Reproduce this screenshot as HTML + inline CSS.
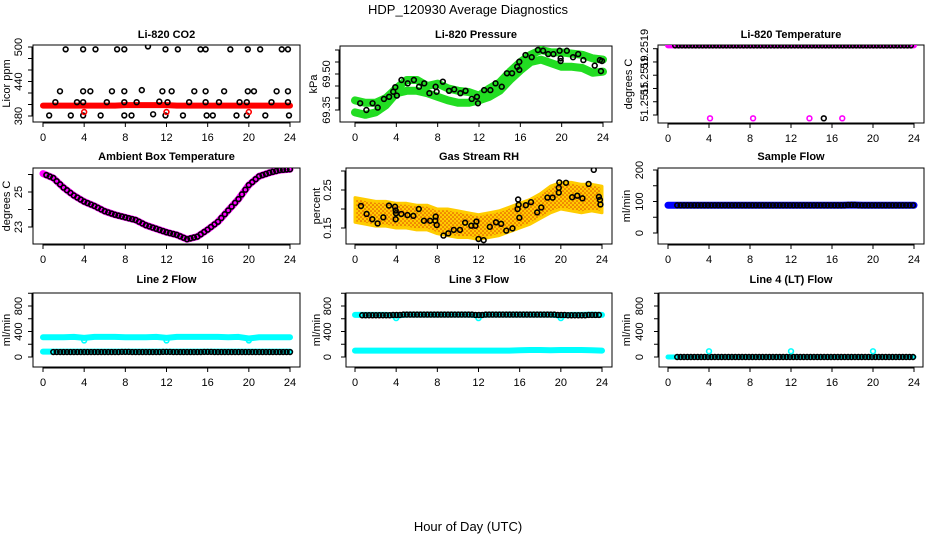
<!DOCTYPE html>
<html><head><meta charset="utf-8"><style>
html,body{margin:0;padding:0;background:#fff;}
svg{display:block;font-family:"Liberation Sans",sans-serif;}
</style></head><body>
<svg id="chart" width="936" height="540" viewBox="0 0 936 540">
<defs>
<pattern id="rhpat" width="4" height="4" patternUnits="userSpaceOnUse">
<rect width="4" height="4" fill="#ffcc00"/><circle cx="1" cy="1" r="0.8" fill="#e04000"/><circle cx="3" cy="3" r="0.8" fill="#e04000"/>
</pattern>
</defs>
<text x="468" y="14" text-anchor="middle" font-size="13">HDP_120930  Average Diagnostics</text>
<text x="468" y="531" text-anchor="middle" font-size="13">Hour of Day (UTC)</text>
</svg>
<script>
const hours = [0,1,2,3,4,5,6,7,8,9,10,11,12,13,14,15,16,17,18,19,20,21,22,23,24];
const xTicks = [0,4,8,12,16,20,24];
// CO2
const co2Red = [398,398,398,398,398,398,398,398,399,399,399,399,399,398,398,398,398,398,398,398,398,398,398,398,398];
const co2BlackH = [2.2,3.9,5.1,7.2,7.9,10.2,11.9,13.1,15.3,15.8,18.2,19.9,21.1,23.2,23.8, 1.65,3.9,4.6,6.7,7.9,9.6,11.6,12.5,14.7,15.8,17.6,19.9,20.5,22.7,23.8, 1.2,3.3,3.9,6.2,7.9,9.1,11.3,12.1,14.2,15.8,17.1,19.1,19.8,22.2,23.8, 0.6,2.7,3.9,5.6,7.9,8.6,10.7,11.9,13.6,15.9,16.5,18.8,19.8,21.6,23.9];
const co2BlackV = [496,496,496,496,496,501,496,496,496,496,496,496,496,496,496, 423,423,423,423,423,425,423,423,423,423,423,423,423,423,423, 404,404,404,404,404,404,405,404,404,404,404,404,404,404,404, 381,381,381,381,381,381,383,381,381,381,381,381,381,381,381];
const co2RedH = [4,12,20];
const co2RedV = [387,387,387];
// Pressure
const presUpper = [69.39,69.38,69.38,69.40,69.44,69.475,69.475,69.45,69.46,69.44,69.43,69.425,69.41,69.44,69.465,69.51,69.55,69.58,69.60,69.59,69.59,69.585,69.58,69.565,69.56];
const presLower = [69.34,69.33,69.34,69.37,69.42,69.43,69.43,69.42,69.405,69.39,69.38,69.38,69.39,69.405,69.43,69.475,69.515,69.55,69.56,69.545,69.53,69.53,69.525,69.505,69.51];
const presBlackH = [0.5,1.1,1.7,2.2,2.8,3.3,3.7,3.9,4.05,4.5,5.1,5.7,6.2,6.7,7.2,7.8,7.9,8.5,9.1,9.6,10.2,10.7,11.3,11.8,11.9,12.5,13.1,13.6,14.2,14.7,15.2,15.7,15.9,15.9,16.5,17.1,17.7,18.2,18.7,19.2,19.8,19.9,19.9,20.5,21.1,21.6,22.1,23.2,23.7,23.8,23.9];
const presBlackV = [69.378,69.35,69.378,69.36,69.396,69.405,69.426,69.445,69.41,69.475,69.461,69.475,69.447,69.461,69.42,69.447,69.426,69.468,69.43,69.436,69.42,69.43,69.396,69.405,69.378,69.433,69.433,69.461,69.447,69.503,69.503,69.53,69.551,69.517,69.579,69.57,69.6,69.597,69.583,69.583,69.597,69.565,69.554,69.597,69.57,69.583,69.558,69.535,69.558,69.512,69.554];
// Li-820 temperature
const tempMain = [51.25192,51.25192,51.25192,51.25192,51.25192,51.25192,51.25192,51.25192,51.25192,51.25192,51.25192,51.25192,51.25192,51.25192,51.25192,51.25192,51.25192,51.25192,51.25192,51.25192,51.25192,51.25192,51.25192,51.25192,51.25192];
const tempLowH = [4.1,8.3,13.8,17.0];
const tempLowV = [51.25148,51.25148,51.25148,51.25148];
const tempBlackLowH = [15.2];
const tempBlackLowV = [51.25148];
// Ambient box temperature
const ambient = [26.05,25.8,25.25,24.8,24.45,24.2,23.9,23.7,23.55,23.4,23.1,22.9,22.7,22.55,22.3,22.45,22.85,23.3,23.95,24.6,25.4,25.9,26.1,26.25,26.3];
// Gas stream RH
const rhUpper = [0.23,0.225,0.22,0.22,0.215,0.215,0.21,0.21,0.20,0.20,0.195,0.19,0.185,0.19,0.195,0.205,0.215,0.225,0.24,0.26,0.27,0.27,0.265,0.265,0.26];
const rhLower = [0.165,0.16,0.155,0.155,0.15,0.15,0.145,0.145,0.135,0.13,0.125,0.125,0.12,0.125,0.13,0.14,0.15,0.16,0.175,0.19,0.20,0.195,0.19,0.195,0.19];
const rhBlackH = [0.58,1.13,1.68,2.2,2.75,3.3,3.89,3.95,3.95,3.98,4.5,5.1,5.67,6.2,6.7,7.3,7.8,7.84,7.94,8.6,9.07,9.6,10.2,10.7,11.3,11.7,11.8,12.0,12.5,13.1,13.7,14.2,14.7,15.3,15.8,15.85,15.9,15.97,16.6,17.1,17.7,18.1,18.7,19.2,19.8,19.8,19.85,20.5,21.1,21.6,22.1,22.7,23.2,23.7,23.8,23.85];
const rhBlackV = [0.208,0.187,0.173,0.162,0.178,0.209,0.206,0.196,0.173,0.189,0.187,0.184,0.182,0.2,0.169,0.169,0.169,0.18,0.158,0.13,0.136,0.145,0.145,0.164,0.156,0.156,0.167,0.121,0.118,0.153,0.165,0.161,0.143,0.149,0.2,0.225,0.211,0.177,0.21,0.218,0.191,0.204,0.23,0.23,0.243,0.256,0.27,0.269,0.231,0.235,0.228,0.266,0.303,0.232,0.224,0.212];
// Sample flow
const sampleFlow = [88,88,88,88,88,88,88,88,88,88,88,88,88,88,88,88,88,88,89,88,88,88,88,88,88];
// Line 2
const line2Upper = [310,310,310,315,300,315,315,315,310,310,310,315,300,315,315,315,315,315,310,315,290,310,310,310,310];
const line2Lower = [85,85,85,85,85,85,85,85,85,85,85,85,85,85,85,85,85,85,85,85,85,85,85,85,85];
const line2Black = [78,78,78,78,78,78,78,78,80,78,78,78,80,78,78,78,80,78,78,78,78,78,78,78,78];
const line2DipH = [4,12,20];
const line2DipV = [260,260,260];
// Line 3
const line3Upper = [660,660,660,660,650,665,665,665,665,665,665,665,655,665,665,665,665,665,665,665,650,660,660,665,660];
const line3Lower = [100,100,100,100,100,100,100,100,100,100,100,100,100,100,100,100,105,110,110,105,110,110,110,105,100];
const line3Black = [655,655,655,655,660,665,665,665,665,665,665,665,660,665,665,665,665,665,665,665,660,655,655,660,660];
const line3DipH = [4,12,20];
const line3DipV = [610,610,610];
// Line 4
const line4Main = [0,0,0,0,0,0,0,0,0,0,0,0,0,0,0,0,0,0,0,0,0,0,0,0,0];
const line4SpikeH = [4,12,20];
const line4SpikeV = [90,90,90];

const yTicksCO2 = [380,400,420,440,460,480,500], yLabCO2 = ["380","","","440","","","500"];
const yTicksPres = [69.35,69.40,69.45,69.50,69.55,69.60], yLabPres = ["69.35","","","69.50","",""];
const yTicksTemp = [51.25190,51.25182,51.25174,51.25166,51.25158,51.25150];
const yLabTemp = ["51.2519","","51.2519","","51.2515",""];
const yTicksAmb = [23,24,25,26], yLabAmb = ["23","","25",""];
const yTicksRH = [0.15,0.20,0.25,0.30], yLabRH = ["0.15","","0.25",""];
const yTicksSF = [0,50,100,150,200], yLabSF = ["0","","100","","200"];
const yTicksFlow = [0,200,400,600,800,1000], yLabFlow = ["0","","400","","800",""];

const svg = document.getElementById('chart');
const NS = 'http://www.w3.org/2000/svg';
function mk(tag, attrs, parent){ const e=document.createElementNS(NS,tag); for(const k in attrs) e.setAttribute(k,attrs[k]); (parent||svg).appendChild(e); return e; }

function panel(o){
  const g = mk('g',{});
  
  
  const [l,t,r,b] = o.box;
  const xs = h => o.xm[0] + (o.xm[1]-o.xm[0])*h/24;
  const ys = v => o.ym[1] + (v-o.ym[0])*(o.ym[3]-o.ym[1])/(o.ym[2]-o.ym[0]);
  const frame = mk('rect',{x:l,y:t,width:r-l,height:b-t,fill:'none',stroke:'#000','stroke-width':1},g);
  
  
  const title = mk('text',{x:(l+r)/2,y:o.titleY,'text-anchor':'middle','font-size':11,'font-weight':'bold'},g);
  title.textContent = o.title;
  
  
  const xa = mk('g',{},g);
  
  
  mk('line',{x1:xs(0),x2:xs(24),y1:b+1,y2:b+1,stroke:'#000'},xa);
  xTicks.forEach(h=>{
    mk('line',{x1:xs(h),x2:xs(h),y1:b,y2:b+5,stroke:'#000'},xa);
    const tx = mk('text',{x:xs(h),y:b+19,'text-anchor':'middle','font-size':11},xa);
    tx.textContent = h;
    
    
  });
  const ya = mk('g',{},g);
  
  
  mk('line',{x1:l-1,x2:l-1,y1:ys(o.yt[0]),y2:ys(o.yt[o.yt.length-1]),stroke:'#000'},ya);
  o.yt.forEach((v,i)=>{
    mk('line',{x1:l-5,x2:l,y1:ys(v),y2:ys(v),stroke:'#000'},ya);
    const lab = o.yl[i]; if(lab===''||lab===undefined) return;
    const tx = mk('text',{x:o.labX,y:ys(v),'text-anchor':'middle','font-size':11,transform:`rotate(-90 ${o.labX} ${ys(v)})`},ya);
    tx.textContent = lab;
    
    
  });
  const yt = mk('text',{x:o.ttlX,y:(t+b)/2,'text-anchor':'middle','font-size':11,transform:`rotate(-90 ${o.ttlX} ${(t+b)/2})`},g);
  yt.textContent = o.ylab;
  
  
  const clip = 'clip-'+o.name;
  const cp = mk('clipPath',{id:clip},g); mk('rect',{x:l,y:t,width:r-l,height:b-t},cp);
  const plot = mk('g',{'clip-path':`url(#${clip})`},g);
  return {g:plot,xs,ys};
}
function band(p, arr, color, w, name){
  const pts = arr.map((v,i)=>p.xs(hours[i])+','+p.ys(v)).join(' ');
  const e = mk('polyline',{points:pts,fill:'none',stroke:color,'stroke-width':w,'stroke-linecap':'round','stroke-linejoin':'round'},p.g);
  
  
}
function pts(p, hs, vs, color, name){
  hs.forEach((h,i)=>{
    const c = mk('circle',{cx:p.xs(h),cy:p.ys(vs[i]),r:2.4,fill:'none',stroke:color,'stroke-width':1.6},p.g);
    
    
  });
}
function stepPts(p, arr, color, name, start){
  for(let h=start; h<=24.01; h+=1/3){
    const c = mk('circle',{cx:p.xs(h),cy:p.ys(arr[Math.round(h)]),r:2.4,fill:'none',stroke:color,'stroke-width':1.6},p.g);
    
    
  }
}

let p = panel({name:'co2-panel',box:[33,45,300,122],xm:[43,290],ym:[380,116,500,47],yt:yTicksCO2,yl:yLabCO2,title:'Li-820 CO2',titleY:38,ylab:'Licor ppm',labX:22,ttlX:10});
band(p, co2Red, '#ff0000', 6, 'co2-red-series');
pts(p, co2BlackH, co2BlackV, '#000', 'co2-black-point');
pts(p, co2RedH, co2RedV, '#ff0000', 'co2-red-point');

p = panel({name:'pressure-panel',box:[340,46,612,122],xm:[355,603],ym:[69.35,110,69.50,74],yt:yTicksPres,yl:yLabPres,title:'Li-820 Pressure',titleY:38,ylab:'kPa',labX:330,ttlX:317});
band(p, presUpper, '#22dd22', 8, 'pressure-upper-series');
band(p, presLower, '#22dd22', 8, 'pressure-lower-series');
pts(p, presBlackH, presBlackV, '#000', 'pressure-black-point');

p = panel({name:'li820-temp-panel',box:[658,45,924,123],xm:[668,914],ym:[51.25190,48.7,51.25150,115],yt:yTicksTemp,yl:yLabTemp,title:'Li-820 Temperature',titleY:38,ylab:'degrees C',labX:648,ttlX:632});
band(p, tempMain, '#ff00ff', 6, 'temp-magenta-series');
stepPts(p, tempMain, '#000', 'temp-black-point', 0.7);
pts(p, tempLowH, tempLowV, '#ff00ff', 'temp-low-point');
pts(p, tempBlackLowH, tempBlackLowV, '#000', 'temp-low-black-point');

p = panel({name:'ambient-panel',box:[33,168,300,244],xm:[43,290],ym:[23,227,25,192],yt:yTicksAmb,yl:yLabAmb,title:'Ambient Box Temperature',titleY:160,ylab:'degrees C',labX:22,ttlX:10});
band(p, ambient, '#ff00ff', 7, 'ambient-series');
for(let i=0;i<hours.length-1;i++){ for(let k=0;k<3;k++){
  const h = hours[i]+k/3+0.33, v = ambient[i]+(ambient[i+1]-ambient[i])*(k/3+0.33);
  const c = mk('circle',{cx:p.xs(h),cy:p.ys(v),r:2.4,fill:'none',stroke:'#000','stroke-width':1.6},p.g);
  
  
}}

p = panel({name:'rh-panel',box:[346,168,612,244],xm:[355,602],ym:[0.15,228,0.25,190],yt:yTicksRH,yl:yLabRH,title:'Gas Stream RH',titleY:160,ylab:'percent',labX:331,ttlX:320});
{
  const up = rhUpper.map((v,i)=>p.xs(hours[i])+','+p.ys(v));
  const lo = rhLower.map((v,i)=>p.xs(hours[i])+','+p.ys(v)).reverse();
  const poly = mk('polygon',{points:up.concat(lo).join(' '),fill:'url(#rhpat)',stroke:'#ffcc00','stroke-width':3,'stroke-linejoin':'round'},p.g);
  
  
}
pts(p, rhBlackH, rhBlackV, '#000', 'rh-black-point');

p = panel({name:'sample-flow-panel',box:[658,168,924,244],xm:[668,914],ym:[0,233,200,170],yt:yTicksSF,yl:yLabSF,title:'Sample Flow',titleY:160,ylab:'ml/min',labX:643,ttlX:630});
band(p, sampleFlow, '#0000ff', 7, 'sample-flow-series');
stepPts(p, sampleFlow, '#000', 'sample-flow-black-point', 0.9);

p = panel({name:'line2-panel',box:[33,293,300,367],xm:[43,290],ym:[0,357,800,306],yt:yTicksFlow,yl:yLabFlow,title:'Line 2 Flow',titleY:283,ylab:'ml/min',labX:22,ttlX:10});
band(p, line2Upper, '#00ffff', 6, 'line2-upper-series');
band(p, line2Lower, '#00ffff', 6, 'line2-lower-series');
pts(p, line2DipH, line2DipV, '#00ffff', 'line2-dip-point');
stepPts(p, line2Black, '#000', 'line2-black-point', 1.0);

p = panel({name:'line3-panel',box:[346,293,612,367],xm:[355,602],ym:[0,357,800,306],yt:yTicksFlow,yl:yLabFlow,title:'Line 3 Flow',titleY:283,ylab:'ml/min',labX:331,ttlX:320});
band(p, line3Upper, '#00ffff', 6, 'line3-upper-series');
band(p, line3Lower, '#00ffff', 6, 'line3-lower-series');
pts(p, line3DipH, line3DipV, '#00ffff', 'line3-dip-point');
stepPts(p, line3Black, '#000', 'line3-black-point', 0.7);

p = panel({name:'line4-panel',box:[659,293,923,367],xm:[668,914],ym:[0,357,800,306],yt:yTicksFlow,yl:yLabFlow,title:'Line 4 (LT) Flow',titleY:283,ylab:'ml/min',labX:643,ttlX:630});
band(p, line4Main, '#00ffff', 5, 'line4-series');
stepPts(p, line4Main, '#000', 'line4-black-point', 0.9);
pts(p, line4SpikeH, line4SpikeV, '#00ffff', 'line4-spike-point');
</script>
</body></html>
